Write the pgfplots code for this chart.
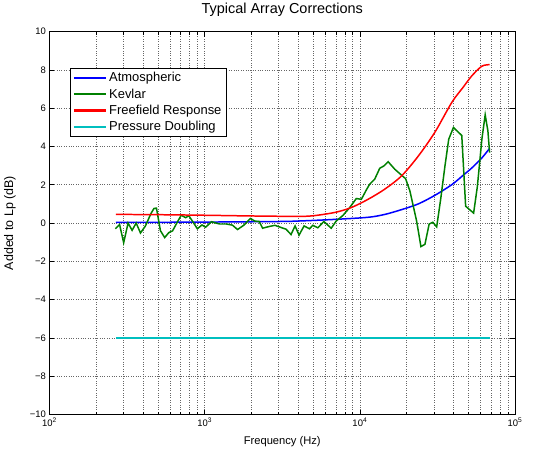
\documentclass[border=0pt]{standalone}
\usepackage{pgfplots}
\pgfplotsset{compat=1.18}
\usepackage{fontspec}
\setmainfont{Liberation Sans}
\definecolor{mblue}{rgb}{0,0,1}
\definecolor{mgreen}{rgb}{0,0.5,0}
\definecolor{mred}{rgb}{1,0,0}
\definecolor{mcyan}{rgb}{0,0.75,0.75}
\begin{document}
\begin{tikzpicture}
\begin{semilogxaxis}[
  name=ax,
  scale only axis,
  width=465.5bp, height=383bp,
  xmin=100, xmax=100000,
  ymin=-10, ymax=10,
  xtick={100,1000,10000,100000},
  xticklabels={10\textsuperscript{2},10\textsuperscript{3},10\textsuperscript{4},10\textsuperscript{5}},
  ytick={-10,-8,-6,-4,-2,0,2,4,6,8,10},
  yticklabels={−10,−8,−6,−4,−2,0,2,4,6,8,10},
  tick label style={font=\fontsize{9.5}{11}\selectfont},
  major tick length=5bp, minor tick length=3bp,
  tick style={black, line width=0.5pt},
  axis line style={line width=0.8pt},
  grid=both,
  major grid style={dotted, black!60, line width=0.5pt},
  minor grid style={dotted, black!60, line width=0.5pt},
  title={Typical Array Corrections},
  title style={font=\fontsize{14.5}{16}\selectfont, at={(axis description cs:0.5,1.0405)}, anchor=center},
  xlabel={Frequency (Hz)},
  xlabel style={font=\fontsize{11.2}{13}\selectfont, at={(axis description cs:0.5,-0.0705)}, anchor=center},
  ylabel={Added to Lp (dB)},
  ylabel style={font=\fontsize{12.5}{14}\selectfont, at={(axis description cs:-0.085,0.5)}, anchor=center},
  legend style={at={(axis description cs:0.044,0.906)}, anchor=north west, draw=black, fill=white,
    font=\fontsize{13}{15}\selectfont, row sep=1.5bp, inner sep=2.5bp, line width=0.6pt},
  legend cell align=left,
  legend image code/.code={\draw[#1] (0bp,0bp) -- (32bp,0bp);},
]
\addlegendimage{draw=mblue, line width=2.4pt}
\addlegendimage{draw=mgreen, line width=2.4pt}
\addlegendimage{draw=mred, line width=2.4pt}
\addlegendimage{draw=mcyan, line width=2.4pt}
\legend{Atmospheric,Kevlar,Freefield Response,Pressure Doubling}
\addplot[color=mblue, line width=1.5pt, smooth, forget plot] coordinates {
(268,0.03) (1000,0.05) (3000,0.08) (4180,0.11) (6870,0.19) (11298,0.3) (14478,0.45)
(18566,0.7) (23822,1.0) (30496,1.45) (39081,2.0) (46416,2.5) (52723,2.88) (61160,3.4) (68582,3.9)
};
\addplot[color=mgreen, line width=1.5pt, forget plot] coordinates {
(265.5,-0.3) (283,-0.08) (300.6,-1.03) (320.9,0.0) (340.6,-0.38) (362,0.0) (385.7,-0.52)
(415.3,-0.15) (450.8,0.5) (471,0.76) (489,0.78) (518.6,-0.4) (552.5,-0.76) (587.3,-0.5)
(620.8,-0.41) (666.6,0.05) (706.5,0.41) (753.5,0.28) (791,0.38) (845,0.03) (897,-0.3)
(960.9,-0.1) (1014,-0.22) (1106,0.07) (1192,-0.01) (1250,-0.05) (1381,-0.05) (1510,-0.11)
(1628,-0.34) (1783,-0.12) (1972,0.24) (2107,0.1) (2246,0.08) (2362,-0.27) (2606,-0.18)
(2838,-0.12) (3102,-0.23) (3343,-0.32) (3602,-0.6) (3824,-0.15) (4058,-0.63) (4372,-0.15)
(4733,-0.3) (4978,-0.12) (5362,-0.25) (5863,0.08) (6540,-0.27) (7051,0.11) (7788,0.4)
(8590,0.8) (9487,1.28) (10226,1.24) (11015,1.73) (11569,2.03) (12468,2.29) (13436,2.86)
(14340,2.99) (15228,3.2) (16796,2.81) (18566,2.5) (19712,2.32) (21010,1.68) (23215,0.11)
(24758,-1.23) (26273,-1.11) (27976,-0.05) (29563,0.04) (31277,-0.2) (33184,1.24) (35391,3.0)
(37407,4.38) (40107,4.99) (45389,4.57) (48064,0.88) (54108,0.52) (57188,1.9) (61168,4.38)
(64240,5.65) (66884,4.81) (68582,3.68)
};
\addplot[color=mred, line width=1.5pt, smooth, forget plot] coordinates {
(268,0.45) (446.8,0.44) (941,0.41) (1985,0.37) (3602,0.35) (4854,0.37) (6870,0.55)
(8810,0.81) (11298,1.24) (14478,1.77) (18566,2.46) (23822,3.5) (30496,4.75) (39081,6.29)
(46416,7.1) (52723,7.69) (61160,8.19) (68582,8.27)
};
\addplot[color=mcyan, line width=1.5pt, forget plot] coordinates {
(268,-6) (68582,-6)
};
\end{semilogxaxis}
\path ([shift={(-49.5bp,-36bp)}]ax.south west) rectangle ([shift={(30bp,29bp)}]ax.north east);
\end{tikzpicture}
\end{document}
